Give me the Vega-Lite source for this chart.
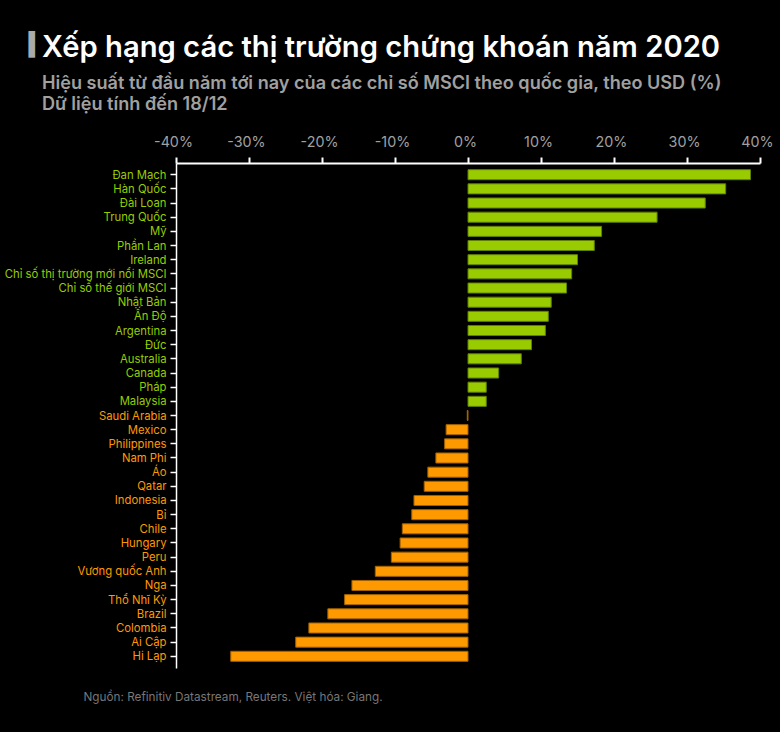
{
  "$schema": "https://vega.github.io/schema/vega-lite/v6.json",
  "description": "Xếp hạng các thị trường chứng khoán năm 2020",
  "width": 584,
  "height": 505,
  "autosize": {"type": "none"},
  "padding": {"left": 176, "top": 163, "right": 20, "bottom": 64},
  "background": "#000000",
  "title": {
    "text": "Xếp hạng các thị trường chứng khoán năm 2020",
    "subtitle": ["Hiệu suất từ đầu năm tới nay của các chỉ số MSCI theo quốc gia, theo USD (%)", "Dữ liệu tính đến 18/12"],
    "anchor": "start",
    "frame": "group",
    "font": "Inter",
    "fontSize": 29.2,
    "fontWeight": 600,
    "color": "#ffffff",
    "subtitleFont": "Inter",
    "subtitleFontSize": 18.1,
    "subtitleFontWeight": 600,
    "subtitleColor": "#a0a0a0",
    "subtitleLineHeight": 21,
    "subtitlePadding": 12,
    "dx": -134,
    "dy": 97,
    "offset": 16
  },
  "data": {
    "values": [
      {"market": "Đan Mạch", "ytd": 38.7, "group": "up"},
      {"market": "Hàn Quốc", "ytd": 35.3, "group": "up"},
      {"market": "Đài Loan", "ytd": 32.5, "group": "up"},
      {"market": "Trung Quốc", "ytd": 25.9, "group": "up"},
      {"market": "Mỹ", "ytd": 18.3, "group": "up"},
      {"market": "Phần Lan", "ytd": 17.3, "group": "up"},
      {"market": "Ireland", "ytd": 15.0, "group": "up"},
      {"market": "Chỉ số thị trường mới nổi MSCI", "ytd": 14.2, "group": "up"},
      {"market": "Chỉ số thế giới MSCI", "ytd": 13.5, "group": "up"},
      {"market": "Nhật Bản", "ytd": 11.4, "group": "up"},
      {"market": "Ấn Độ", "ytd": 11.0, "group": "up"},
      {"market": "Argentina", "ytd": 10.6, "group": "up"},
      {"market": "Đức", "ytd": 8.7, "group": "up"},
      {"market": "Australia", "ytd": 7.3, "group": "up"},
      {"market": "Canada", "ytd": 4.2, "group": "up"},
      {"market": "Pháp", "ytd": 2.5, "group": "up"},
      {"market": "Malaysia", "ytd": 2.5, "group": "up"},
      {"market": "Saudi Arabia", "ytd": -0.1, "group": "down"},
      {"market": "Mexico", "ytd": -3.0, "group": "down"},
      {"market": "Philippines", "ytd": -3.2, "group": "down"},
      {"market": "Nam Phi", "ytd": -4.4, "group": "down"},
      {"market": "Áo", "ytd": -5.5, "group": "down"},
      {"market": "Qatar", "ytd": -6.0, "group": "down"},
      {"market": "Indonesia", "ytd": -7.4, "group": "down"},
      {"market": "Bỉ", "ytd": -7.7, "group": "down"},
      {"market": "Chile", "ytd": -9.0, "group": "down"},
      {"market": "Hungary", "ytd": -9.3, "group": "down"},
      {"market": "Peru", "ytd": -10.5, "group": "down"},
      {"market": "Vương quốc Anh", "ytd": -12.7, "group": "down"},
      {"market": "Nga", "ytd": -15.9, "group": "down"},
      {"market": "Thổ Nhĩ Kỳ", "ytd": -16.9, "group": "down"},
      {"market": "Brazil", "ytd": -19.2, "group": "down"},
      {"market": "Colombia", "ytd": -21.8, "group": "down"},
      {"market": "Ai Cập", "ytd": -23.6, "group": "down"},
      {"market": "Hi Lạp", "ytd": -32.5, "group": "down"}
    ]
  },
  "mark": {"type": "bar", "strokeWidth": 1},
  "encoding": {
    "x": {
      "field": "ytd",
      "type": "quantitative",
      "scale": {"domain": [-40, 40], "nice": false},
      "axis": {
        "orient": "top",
        "values": [-40, -30, -20, -10, 0, 10, 20, 30, 40],
        "labelExpr": "datum.value + '%'",
        "labelFont": "Inter",
        "labelFontSize": 14.3,
        "labelColor": "#a0a0a0",
        "labelOffset": -3,
        "labelPadding": 8,
        "labelFlush": false,
        "labelBound": false,
        "tickColor": "#ffffff",
        "tickSize": 6,
        "tickWidth": 2,
        "domainColor": "#ffffff",
        "domainWidth": 2,
        "grid": false,
        "title": "▍",
        "titleFont": "DejaVu Sans",
        "titleFontSize": 22.5,
        "titleFontWeight": "normal",
        "titleColor": "#aaaaaa",
        "titleAlign": "left",
        "titleBaseline": "alphabetic",
        "titleX": -148,
        "titleY": -112
      }
    },
    "y": {
      "field": "market",
      "type": "nominal",
      "sort": null,
      "scale": {"paddingInner": 0.29, "paddingOuter": 0.47},
      "axis": {
        "labelFont": "Inter",
        "labelFontSize": 11.3,
        "labelColor": {
          "expr": "indexof(['Saudi Arabia','Mexico','Philippines','Nam Phi','Áo','Qatar','Indonesia','Bỉ','Chile','Hungary','Peru','Vương quốc Anh','Nga','Thổ Nhĩ Kỳ','Brazil','Colombia','Ai Cập','Hi Lạp'], datum.value) >= 0 ? '#ff9900' : '#99cc00'"
        },
        "labelPadding": 4,
        "labelOffset": 1,
        "labelLimit": 220,
        "tickColor": "#ffffff",
        "tickSize": 6,
        "tickWidth": 1.5,
        "domainColor": "#ffffff",
        "domainWidth": 1.5,
        "grid": false,
        "title": "Nguồn: Refinitiv Datastream, Reuters. Việt hóa: Giang.",
        "titleFont": "Inter",
        "titleFontSize": 11.75,
        "titleFontWeight": "normal",
        "titleColor": "#777777",
        "titleAngle": 0,
        "titleAlign": "left",
        "titleBaseline": "alphabetic",
        "titleX": -93,
        "titleY": 537
      }
    },
    "color": {
      "field": "group",
      "type": "nominal",
      "scale": {"domain": ["up", "down"], "range": ["#99cc00", "#ff9900"]},
      "legend": null
    },
    "stroke": {
      "field": "group",
      "type": "nominal",
      "scale": {"domain": ["up", "down"], "range": ["#5f7f00", "#a06000"]},
      "legend": null
    }
  },
  "config": {"view": {"stroke": null}}
}
